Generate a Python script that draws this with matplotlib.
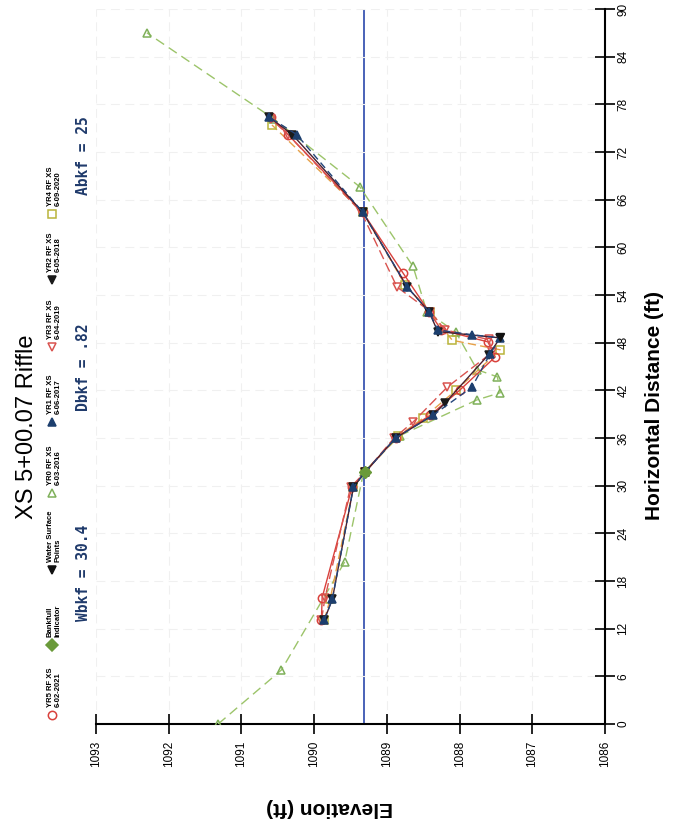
import matplotlib
matplotlib.use("Agg")
import matplotlib.pyplot as plt
from matplotlib.lines import Line2D

plt.rcParams["font.family"] = ["Liberation Sans", "DejaVu Sans"]

# cross-section surveys: station (ft) and elevation (ft)
yr0_dist = [0.0, 6.8, 20.4, 31.7, 36.3, 40.8, 41.7, 43.7, 44.6, 49.3, 51.9, 57.6, 67.6, 76.2, 87.0]
yr0_elev = [1091.32, 1090.45, 1089.58, 1089.32, 1088.82, 1087.76, 1087.44, 1087.48, 1087.76, 1088.05,
            1088.45, 1088.64, 1089.37, 1090.56, 1092.30]

yr1_dist = [13.1, 15.7, 29.8, 31.7, 36.0, 38.9, 42.4, 46.6, 48.6, 49.0, 49.6, 51.9, 55.0, 64.4, 74.2, 76.4]
yr1_elev = [1089.86, 1089.75, 1089.46, 1089.30, 1088.88, 1088.36, 1087.83, 1087.58, 1087.44, 1087.83,
            1088.30, 1088.42, 1088.72, 1089.33, 1090.24, 1090.62]

yr2_dist = [13.1, 15.7, 29.8, 31.7, 36.0, 38.9, 40.4, 46.5, 48.6, 49.4, 51.9, 55.0, 64.4, 74.2, 76.4]
yr2_elev = [1089.86, 1089.75, 1089.46, 1089.30, 1088.88, 1088.36, 1088.20, 1087.60, 1087.44, 1088.30,
            1088.42, 1088.72, 1089.33, 1090.30, 1090.62]

yr3_dist = [13.1, 15.9, 29.8, 31.7, 36.0, 38.0, 42.4, 46.8, 48.4, 49.6, 51.9, 55.0, 64.4, 74.2, 76.2]
yr3_elev = [1089.90, 1089.85, 1089.50, 1089.30, 1088.90, 1088.64, 1088.17, 1087.55, 1087.60, 1088.20,
            1088.40, 1088.86, 1089.35, 1090.36, 1090.60]

yr4_dist = [13.1, 15.7, 29.8, 31.7, 36.2, 38.5, 42.0, 47.1, 48.3, 51.9, 55.3, 64.4, 75.4]
yr4_elev = [1089.86, 1089.78, 1089.46, 1089.30, 1088.85, 1088.50, 1088.05, 1087.44, 1088.10,
            1088.41, 1088.75, 1089.33, 1090.58]

yr5_dist = [13.1, 15.9, 29.8, 31.7, 36.0, 38.9, 42.0, 46.2, 48.1, 49.6, 51.9, 56.8, 64.4, 74.2, 76.4]
yr5_elev = [1089.90, 1089.89, 1089.48, 1089.30, 1088.88, 1088.40, 1088.00, 1087.51, 1087.61, 1088.25,
            1088.42, 1088.78, 1089.33, 1090.36, 1090.60]

bankfull_dist = [31.7]
bankfull_elev = [1089.30]
water_dist = [48.7]
water_elev = [1087.45]

bkf_line_elev = 1089.31
bkf_notes = ["Wbkf = 30.4", "Dbkf = .82", "Abkf = 25"]

dates = {"YR0": "6-03-2016", "YR1": "6-06-2017", "YR2": "6-05-2018",
         "YR3": "6-04-2019", "YR4": "6-09-2020", "YR5": "6-02-2021"}

W, H = 681, 832
fig = plt.figure(figsize=(W / 100, H / 100), dpi=100)
ax = fig.add_axes([96 / W, 1 - 724 / H, (605 - 96) / W, (724 - 9) / H])

ax.axvline(bkf_line_elev, color="#4a62b8", lw=1.4, zorder=1)

# (label, dist, elev, line color, linestyle, marker, marker edge, marker face)
series = [
    ("YR0", yr0_dist, yr0_elev, "#9cc46a", (0, (7, 4)), "^", "#7fb05a", "none"),
    ("YR4", yr4_dist, yr4_elev, "#e6a048", (0, (6, 3)), "s", "#b9b43a", "none"),
    ("YR5", yr5_dist, yr5_elev, "#d9413c", "-", "o", "#d9413c", "none"),
    ("YR3", yr3_dist, yr3_elev, "#d9534f", (0, (7, 3)), "v", "#d9534f", "none"),
    ("YR2", yr2_dist, yr2_elev, "#4a1f2e", "-", "v", "#1a1a1a", "#1a1a1a"),
    ("YR1", yr1_dist, yr1_elev, "#24457a", (0, (5, 3)), "^", "#1d3f6e", "#1d3f6e"),
]
for name, d, e, lc, ls, mk, mec, mfc in series:
    ax.plot(e, d, color=lc, ls=ls, lw=1.0, marker=mk, ms=6, mec=mec, mfc=mfc, mew=1.1, zorder=3)

ax.plot(bankfull_elev, bankfull_dist, ls="none", marker="D", ms=6, color="#6a9a3a", zorder=4)
ax.plot(water_elev, water_dist, ls="none", marker="v", ms=6, color="#111111", zorder=4)

ax.set_xlim(1093, 1086)
ax.set_ylim(0, 90)
ax.set_xticks(range(1086, 1094))
ax.set_yticks(range(0, 91, 6))
ax.yaxis.tick_right()
for side in ("left", "top"):
    ax.spines[side].set_visible(False)
for side in ("right", "bottom"):
    ax.spines[side].set_linewidth(1.5)
ax.grid(True, color="#f0f0f0", lw=0.8, ls=(0, (8, 5)), zorder=0)
ax.tick_params(axis="both", direction="inout", length=14, width=1.2, labelsize=8.5)
ax.tick_params(axis="x", pad=5, labelrotation=90)
ax.tick_params(axis="y", pad=2, labelrotation=90)
for lbl in ax.get_yticklabels():
    lbl.set_va("center")

fig.text(655 / W, 1 - 406 / H, "Horizontal Distance (ft)", rotation=90, fontsize=15,
         fontweight="bold", ha="center", va="center")
fig.text(330 / W, 1 - 808 / H, "Elevation (ft)", rotation=180, fontsize=15,
         fontweight="bold", ha="center", va="center")
fig.text(27 / W, 1 - 427 / H, "XS 5+00.07 Riffle", rotation=90, fontsize=17,
         ha="center", va="center")

for note, yc in zip(bkf_notes, [573, 367, 156]):
    fig.text(84 / W, 1 - yc / H, note, rotation=90, fontsize=10.5, family="DejaVu Sans Mono",
             fontweight="bold", color="#1f3a6b", ha="center", va="center")

# legend, laid out along the rotated frame
legend_items = [
    ("YR5 RF XS\n" + dates["YR5"], "o", "#d9413c", "none"),
    ("Bankfull\nIndicator", "D", "#6a9a3a", "#6a9a3a"),
    ("Water Surface\nPoints", "v", "#111111", "#111111"),
    ("YR0 RF XS\n" + dates["YR0"], "^", "#7fb05a", "none"),
    ("YR1 RF XS\n" + dates["YR1"], "^", "#1d3f6e", "#1d3f6e"),
    ("YR3 RF XS\n" + dates["YR3"], "v", "#d9534f", "none"),
    ("YR2 RF XS\n" + dates["YR2"], "v", "#1a1a1a", "#1a1a1a"),
    ("YR4 RF XS\n" + dates["YR4"], "s", "#b9b43a", "none"),
]
legend_y = [715, 645, 570, 493, 422, 347, 280, 214]
for (text, mk, mec, mfc), yp in zip(legend_items, legend_y):
    fig.add_artist(Line2D([52 / W], [1 - yp / H], transform=fig.transFigure, ls="none",
                          marker=mk, ms=6, mec=mec, mfc=mfc, mew=1.1))
    fig.text(47 / W, 1 - (yp - 8) / H, text, rotation=90, fontsize=5.5, fontweight="bold",
             ha="left", va="bottom", multialignment="left", linespacing=1.1)

fig.savefig("out.png", dpi=100)
